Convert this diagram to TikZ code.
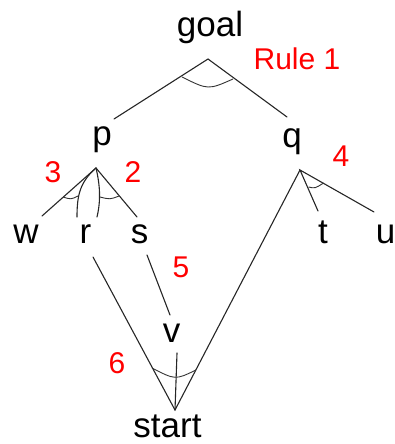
\documentclass[tikz,border=0pt]{standalone}
\usepackage{fontspec}
\setmainfont{Liberation Sans}
\begin{document}
\begin{tikzpicture}[x=1pt,y=-1pt,
 lbl/.style={anchor=base,inner sep=0pt,font=\fontsize{35}{42}\selectfont},
 rulelbl/.style={anchor=base,inner sep=0pt,text=red,font=\fontsize{30}{36}\selectfont},
 edge/.style={line width=1.1pt,line cap=round,draw=black!85},
 andarc/.style={line width=0.9pt,draw=black!80}]
\useasboundingbox (0,0) rectangle (395,444);
% text nodes
\node[lbl] (goal) at (210,37) {goal};
\node[lbl] (p) at (102,145) {p};
\node[lbl] (q) at (292,147) {q};
\node[lbl] (w) at (26,243) {w};
\node[lbl] (r) at (85.5,243) {r};
\node[lbl] (s) at (139.5,243) {s};
\node[lbl] (t) at (323,243) {t};
\node[lbl] (u) at (385.5,243) {u};
\node[lbl] (v) at (171.5,342) {v};
\node[lbl] (start) at (167.5,437) {start};
% red labels
\node[rulelbl] (r1) at (297,70) {Rule 1};
\node[rulelbl] (r3) at (53,182) {3};
\node[rulelbl] (r2) at (133,182) {2};
\node[rulelbl] (r4) at (341,166) {4};
\node[rulelbl] (r5) at (181,277) {5};
\node[rulelbl] (r6) at (117,373) {6};
% connector end points
\coordinate (gA) at (208,59);
\coordinate (pE) at (114,119);
\coordinate (qE) at (287,117);
\coordinate (pA) at (96,168);
\coordinate (wE) at (42,216);
\coordinate (sE) at (137,217);
\coordinate (rL) at (77,217);
\coordinate (rR) at (97,217);
\coordinate (qA) at (300,170);
\coordinate (tE) at (318,211);
\coordinate (uE) at (374,212);
\coordinate (rB) at (93,257);
\coordinate (sB) at (147,255);
\coordinate (vT) at (170,315);
\coordinate (vB) at (177,353);
\coordinate (sA) at (175,410);
% rule 1
\draw[edge] (pE) -- (gA) -- (qE);
\draw[andarc] (182,77) .. controls (208.2,90) .. (233,79);
% rules 2 and 3
\draw[edge] (wE) -- (pA) -- (sE);
\draw[edge] (pA) .. controls (80,182) and (77,195) .. (rL);
\draw[edge] (pA) .. controls (100,185) and (101,200) .. (rR);
\draw[andarc] (63,197) .. controls (71,199.5) .. (78,196);
\draw[andarc] (100,197) .. controls (110,199.5) .. (119,196);
% rule 4
\draw[edge] (tE) -- (qA) -- (uE);
\draw[andarc] (308.5,187) .. controls (315,188.5) .. (323.5,183);
% rule 5
\draw[edge] (sB) -- (vT);
% rule 6
\draw[edge] (rB) -- (sA) -- (qA);
\draw[edge] (vB) -- (sA);
\draw[andarc] (152,368) .. controls (175.3,380) .. (196,370);
\end{tikzpicture}
\end{document}
